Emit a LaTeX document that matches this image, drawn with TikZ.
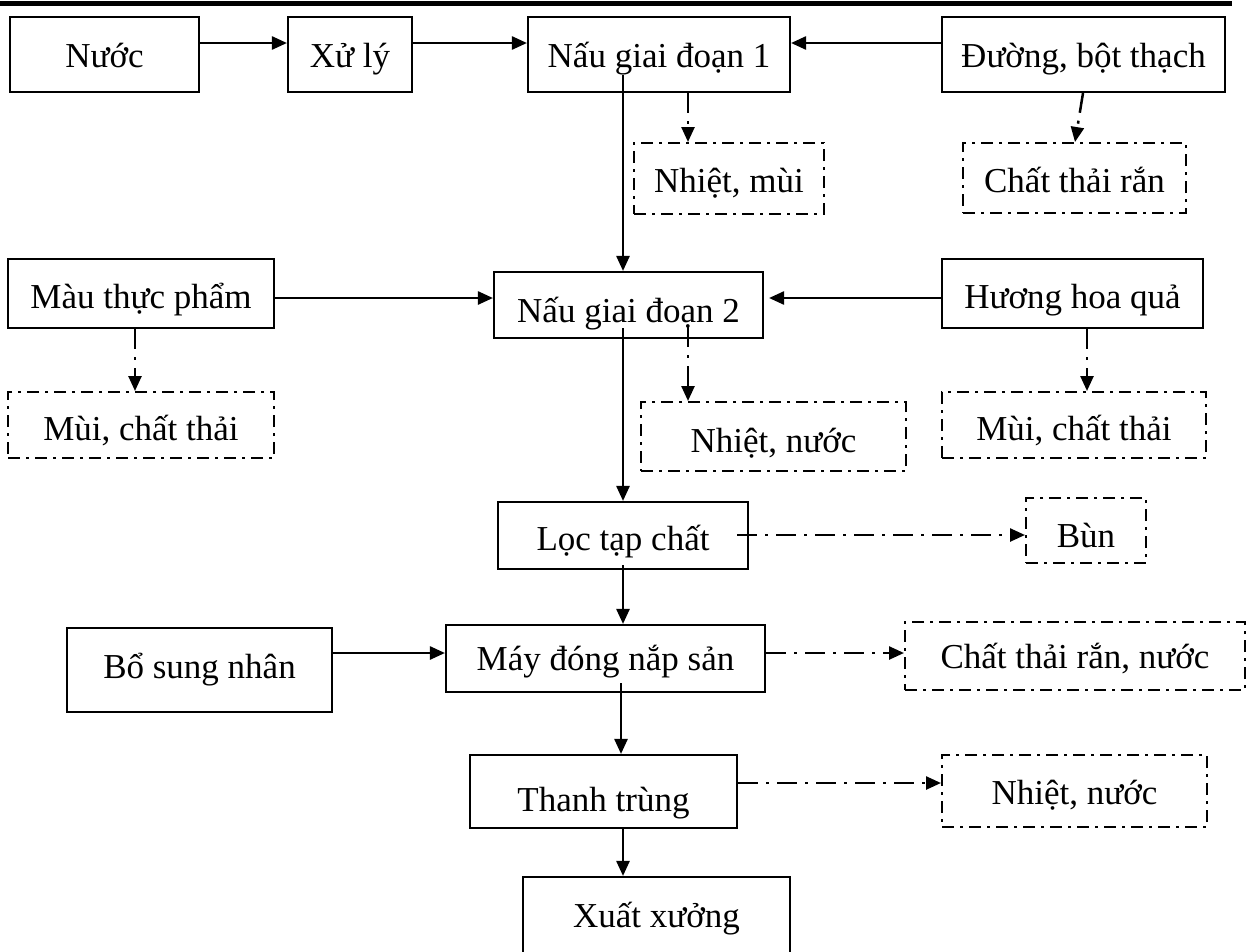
\documentclass[tikz,border=0pt]{standalone}
\usepackage{fontspec}
\setmainfont{Liberation Serif}
\usetikzlibrary{arrows.meta,calc}
\tikzset{
  box/.style={draw, line width=2.1pt, rectangle, inner sep=0pt, align=center,
    font=\fontsize{35}{40}\selectfont, text height=30pt, text depth=2pt},
  dbox/.style={box, line width=2pt, dash pattern=on 12pt off 6pt on 3pt off 6pt},
  th/.style={text height=#1},
  flow/.style={line width=2.5pt, -{Triangle[length=15pt,width=13pt]}},
  waste/.style={flow, dash pattern=on 20pt off 8pt on 3pt off 8pt},
}
\begin{document}
\begin{tikzpicture}[x=1pt,y=-1pt]
\useasboundingbox (0,0) rectangle (1251,951);
\draw[line width=5pt] (0,3.5) -- (1232,3.5);
% boxes
\node[box, th=27pt, minimum width=189pt, minimum height=75pt] (nuoc) at (104.5,54.5) {Nước};
\node[box, th=27pt, minimum width=124pt, minimum height=75pt] (xuly) at (350,54.5) {Xử lý};
\node[box, th=27pt, minimum width=262pt, minimum height=75pt] (nau1) at (659,54.5) {Nấu giai đoạn 1};
\node[box, th=27pt, minimum width=283pt, minimum height=75pt] (duong) at (1083.5,54.5) {Đường, bột thạch};
\node[dbox, th=29pt, minimum width=190pt, minimum height=71pt] (nhietmui) at (729,178.5) {Nhiệt, mùi};
\node[dbox, th=30pt, minimum width=223pt, minimum height=70pt] (ctr) at (1074.5,178) {Chất thải rắn};
\node[box, th=31pt, minimum width=266pt, minimum height=69pt] (mau) at (141,293.5) {Màu thực phẩm};
\node[box, th=36pt, minimum width=269pt, minimum height=66pt] (nau2) at (628.5,305) {Nấu giai đoạn 2};
\node[box, th=31pt, minimum width=261pt, minimum height=69pt] (huong) at (1072.5,293.5) {Hương hoa quả};
\node[dbox, th=32pt, minimum width=266pt, minimum height=66pt] (muiL) at (141,425) {Mùi, chất thải};
\node[dbox, th=33pt, minimum width=265pt, minimum height=69pt] (nhietnuoc) at (773.5,436.5) {Nhiệt, nước};
\node[dbox, th=32pt, minimum width=264pt, minimum height=66pt] (muiR) at (1074,425) {Mùi, chất thải};
\node[box, th=31pt, minimum width=250pt, minimum height=67pt] (loc) at (623,535.5) {Lọc tạp chất};
\node[dbox, th=35pt, minimum width=120pt, minimum height=65pt] (bun) at (1086,530.5) {Bùn};
\node[box, th=18pt, minimum width=265pt, minimum height=84pt] (bosung) at (199.5,670) {Bổ sung nhân};
\node[box, th=26pt, minimum width=319pt, minimum height=67pt] (may) at (605.5,658.5) {Máy đóng nắp sản};
\node[dbox, th=26pt, minimum width=340pt, minimum height=68pt] (ctrn) at (1075,656) {Chất thải rắn, nước};
\node[box, th=42pt, minimum width=267pt, minimum height=73pt] (thanh) at (603.5,791.5) {Thanh trùng};
\node[dbox, th=28pt, minimum width=265pt, minimum height=72pt] (nn2) at (1074.5,791) {Nhiệt, nước};
\node[box, th=18pt, text depth=18pt, minimum width=267pt, minimum height=100pt] (xuat) at (656.5,927) {Xuất xưởng};
% reference coordinates
\coordinate (y1) at (0,43);
\coordinate (y2) at (0,298);
\coordinate (y3) at (0,653);
\coordinate (y4) at (0,783);
\coordinate (x688) at (688,0);
\coordinate (x135) at (135,0);
\coordinate (x1087) at (1087,0);
\coordinate (x623) at (623,0);
\coordinate (d1) at (1083,0);
\coordinate (d2) at (1075,0);
\coordinate (n1in) at (623,75);
\coordinate (n2in) at (623,328);
\coordinate (n2w) at (688,327);
\coordinate (locin) at (623,565);
\coordinate (locw) at (737,535);
\coordinate (mayin) at (621,683);
% main flow
\draw[flow] (nuoc.east |- y1) -- (xuly.west |- y1);
\draw[flow] (xuly.east |- y1) -- (nau1.west |- y1);
\draw[flow] (duong.west |- y1) -- (nau1.east |- y1);
\draw[flow] (n1in) -- (nau2.north -| n1in);
\draw[flow] (mau.east |- y2) -- (nau2.west |- y2);
\draw[flow, shorten >=5pt] (huong.west |- y2) -- (nau2.east |- y2);
\draw[flow] (n2in) -- (loc.north -| n2in);
\draw[flow] (locin) -- (may.north -| locin);
\draw[flow] (bosung.east |- y3) -- (may.west |- y3);
\draw[flow] (mayin) -- (thanh.north -| mayin);
\draw[flow] (thanh.south -| x623) -- (xuat.north -| x623);
% waste flows
\draw[waste] (nau1.south -| x688) -- (nhietmui.north -| x688);
\draw[waste] (duong.south -| d1) -- (ctr.north -| d2);
\draw[waste] (mau.south -| x135) -- (muiL.north -| x135);
\draw[waste] (huong.south -| x1087) -- (muiR.north -| x1087);
\draw[waste] (n2w) -- (nhietnuoc.north -| n2w);
\draw[waste] (locw) -- (bun.west |- locw);
\draw[waste] (may.east |- y3) -- (ctrn.west |- y3);
\draw[waste] (thanh.east |- y4) -- (nn2.west |- y4);
\end{tikzpicture}
\end{document}
